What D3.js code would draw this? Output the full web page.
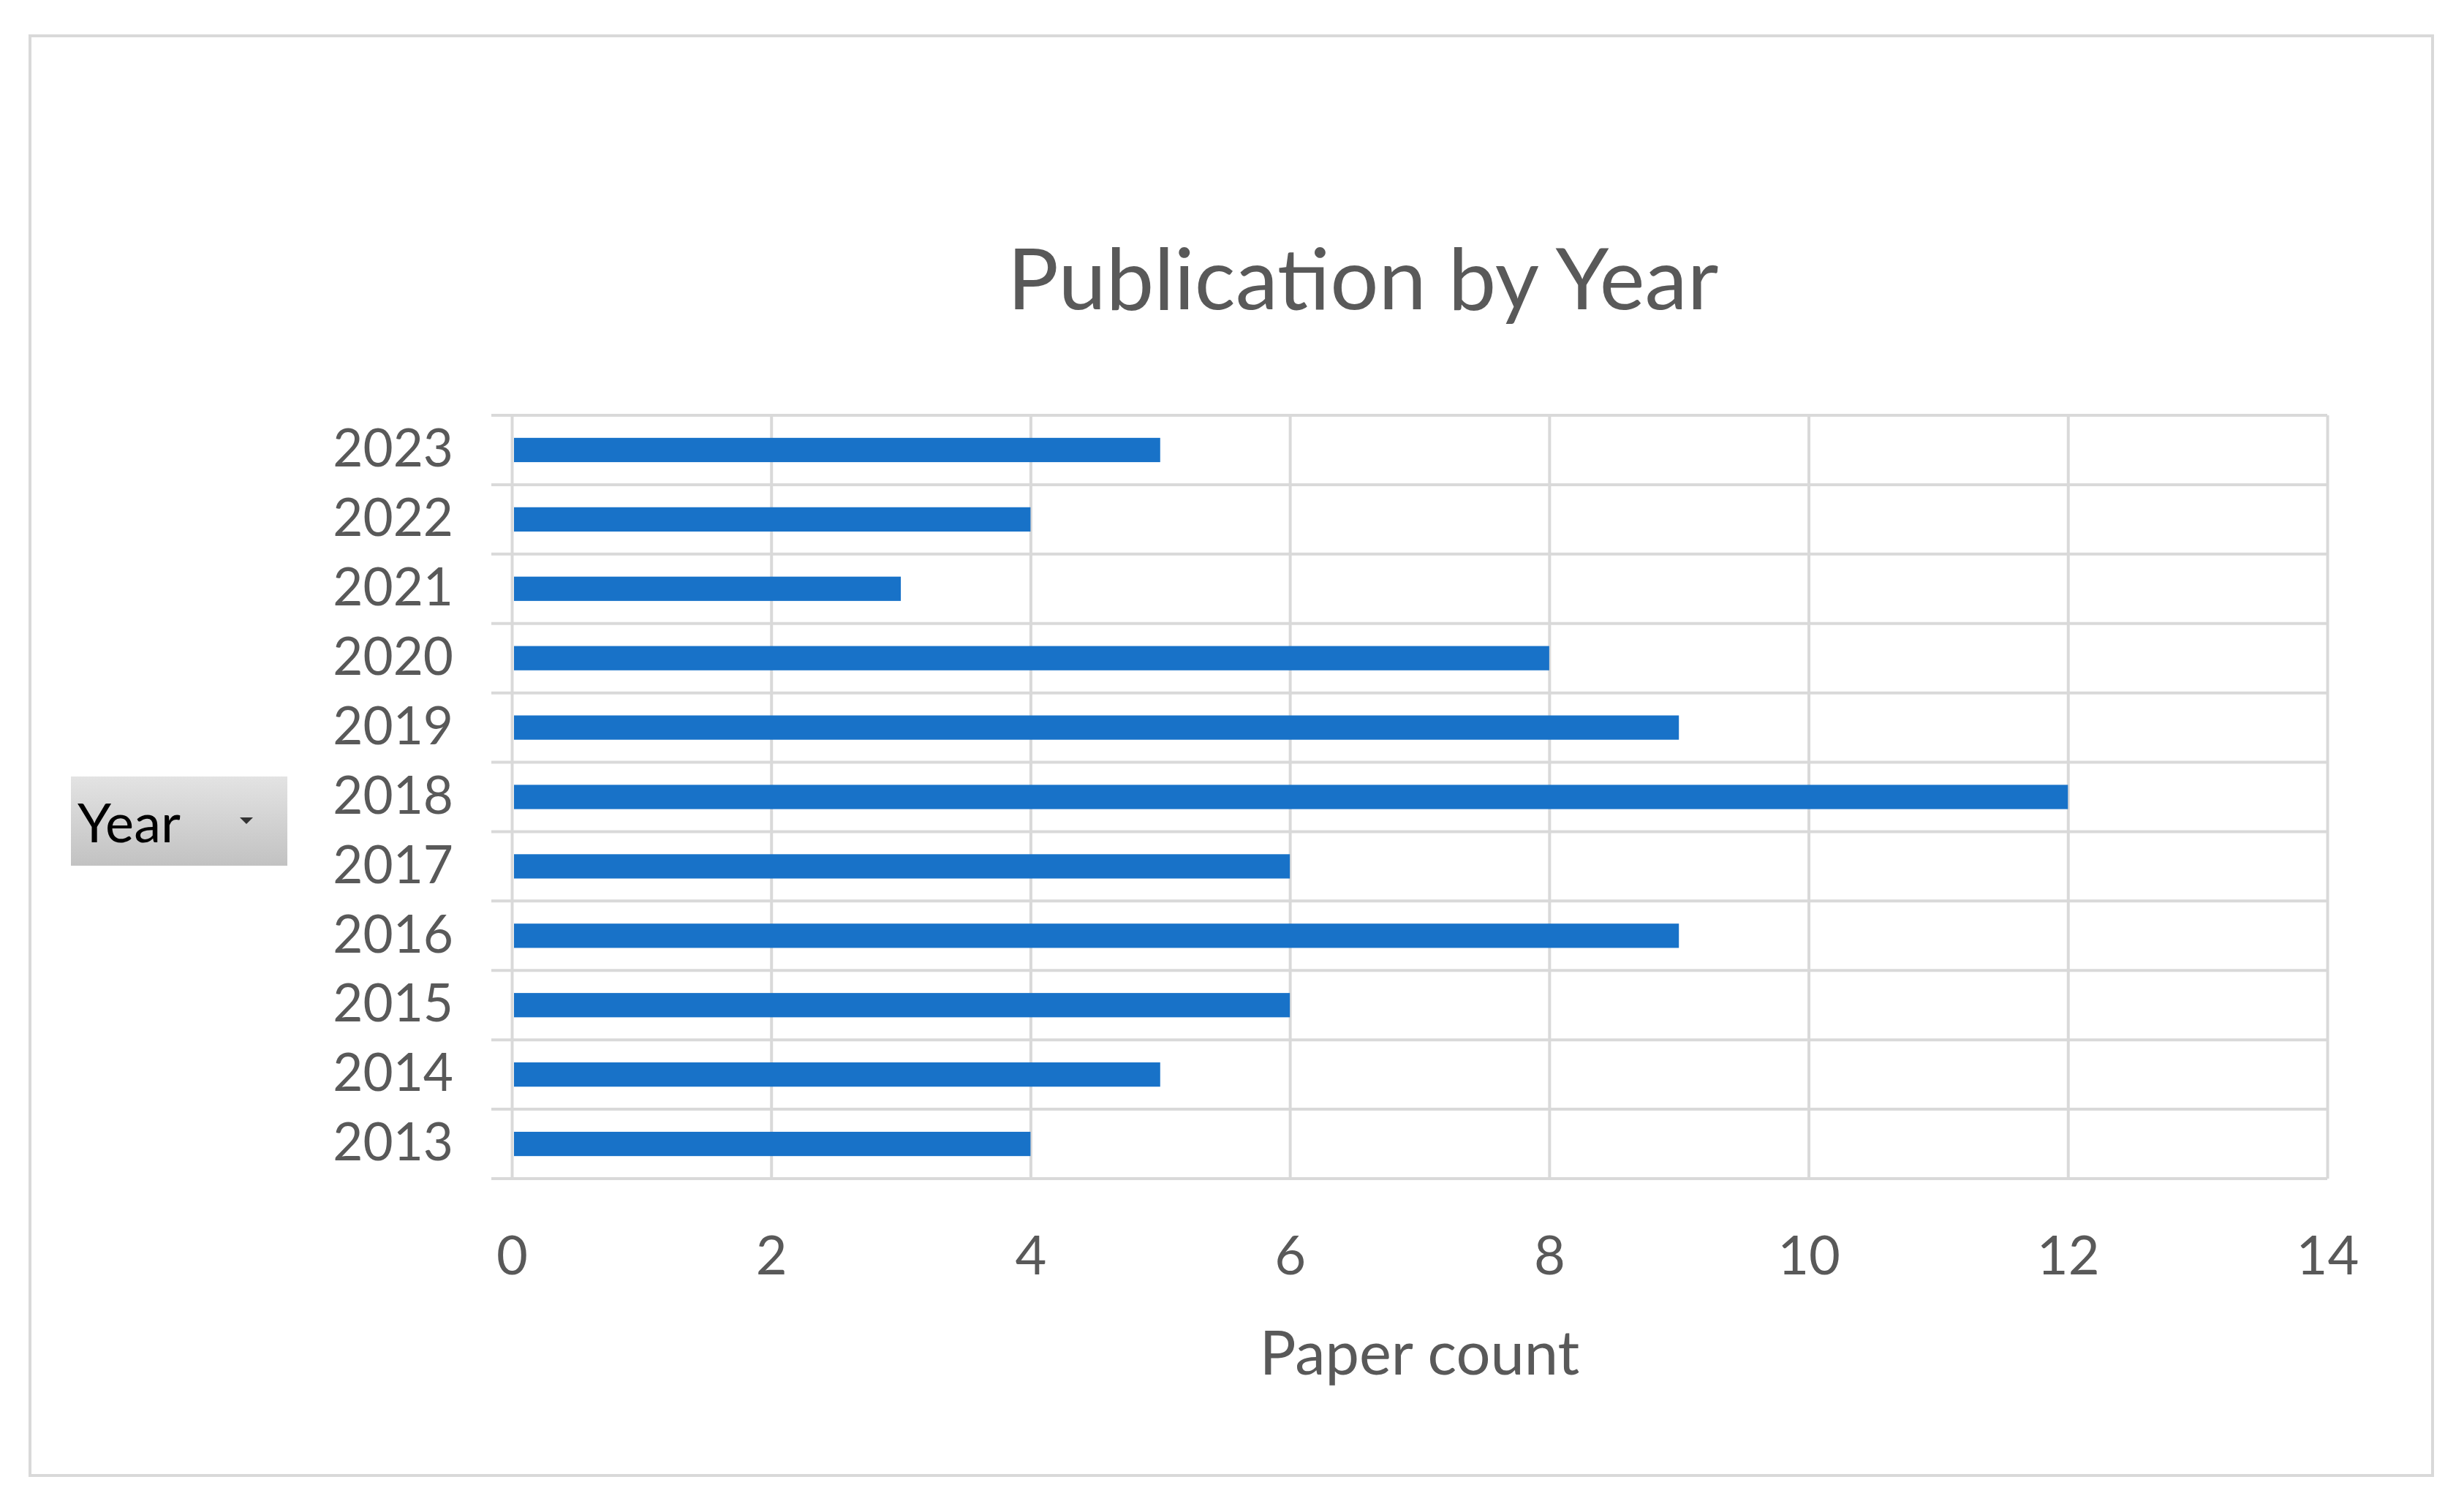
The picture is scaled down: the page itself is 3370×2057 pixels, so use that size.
<!DOCTYPE html>
<html>
<head>
<meta charset="utf-8">
<script src="https://cdn.jsdelivr.net/npm/d3@7"></script>
<style>
  body { margin: 0; background: #fff; }
  text { font-family: Lato, "Open Sans", sans-serif; }
</style>
</head>
<body>
<svg id="chart" width="3370" height="2057"></svg>
<script>
// data
var years = ['2013', '2014', '2015', '2016', '2017', '2018', '2019', '2020', '2021', '2022', '2023'];
var paperCount = [4, 5, 6, 9, 6, 12, 9, 8, 3, 4, 5];
var xTicks = [0, 2, 4, 6, 8, 10, 12, 14];

var data = years.map(function (d, i) {
    return { year: d, value: paperCount[i] };
});

var svg = d3.select('#chart');
var plotL = 700, plotR = 3183, plotT = 568, plotB = 1612;
var grid = '#d9d9d9', txt = '#595959';

// outer frame
svg.append('rect')
    .attr('x', 41).attr('y', 49)
    .attr('width', 3286).attr('height', 1969)
    .attr('fill', '#fff')
    .attr('stroke', grid)
    .attr('stroke-width', 4);

var x = d3.scaleLinear().domain([0, 14]).range([plotL, plotR]);
var y = d3.scaleBand()
    .domain(years.slice().reverse())
    .range([plotT, plotB])
    .padding(0);

// vertical gridlines + x labels
var xAxis = svg.append('g')
    .attr('transform', 'translate(0,' + plotB + ')')
    .call(d3.axisBottom(x).tickValues(xTicks).tickSize(-(plotB - plotT)).tickPadding(78));
xAxis.select('.domain').remove();
xAxis.selectAll('line').attr('stroke', grid).attr('stroke-width', 4);
xAxis.selectAll('text')
    .attr('fill', txt)
    .style('font-size', '74px');

// horizontal category lines (with the little outward ticks)
var bounds = y.domain().map(function (d) { return y(d); });
bounds.push(plotB);
svg.append('g').selectAll('line')
    .data(bounds)
    .enter().append('line')
    .attr('x1', plotL - 28)
    .attr('x2', plotR)
    .attr('y1', function (d) { return d; })
    .attr('y2', function (d) { return d; })
    .attr('stroke', grid)
    .attr('stroke-width', 4);

// y labels
var yAxis = svg.append('g')
    .attr('transform', 'translate(' + plotL + ',0)')
    .call(d3.axisLeft(y).tickSize(0).tickPadding(80));
yAxis.select('.domain').remove();
yAxis.selectAll('text')
    .attr('fill', txt)
    .style('font-size', '71px');

// bars
var barH = y.bandwidth() * 0.35;
svg.append('g').selectAll('rect')
    .data(data)
    .enter().append('rect')
    .attr('x', x(0) + 3)
    .attr('y', function (d) { return y(d.year) + (y.bandwidth() - barH) / 2; })
    .attr('width', function (d) { return x(d.value) - x(0) - 3; })
    .attr('height', barH)
    .attr('fill', '#1872c8');

// title
svg.append('text')
    .attr('x', 1864).attr('y', 423)
    .attr('text-anchor', 'middle')
    .attr('fill', txt)
    .style('font-size', '117px')
    .text('Publication by Year');

// x axis title
svg.append('text')
    .attr('x', (plotL + plotR) / 2).attr('y', 1880)
    .attr('text-anchor', 'middle')
    .attr('fill', txt)
    .style('font-size', '83px')
    .text('Paper count');

// "Year" field button
var grad = svg.append('defs').append('linearGradient')
    .attr('id', 'btn').attr('x1', 0).attr('y1', 0).attr('x2', 0).attr('y2', 1);
grad.append('stop').attr('offset', '0%').attr('stop-color', '#e3e3e3');
grad.append('stop').attr('offset', '100%').attr('stop-color', '#c2c2c2');

svg.append('rect')
    .attr('x', 97).attr('y', 1062)
    .attr('width', 296).attr('height', 122)
    .attr('fill', 'url(#btn)');
svg.append('text')
    .attr('x', 106).attr('y', 1152)
    .attr('fill', '#000')
    .style('font-size', '74px')
    .text('Year');
svg.append('path')
    .attr('d', 'M328,1118 L346,1118 L337,1127 Z')
    .attr('fill', '#333');
</script>
</body>
</html>
